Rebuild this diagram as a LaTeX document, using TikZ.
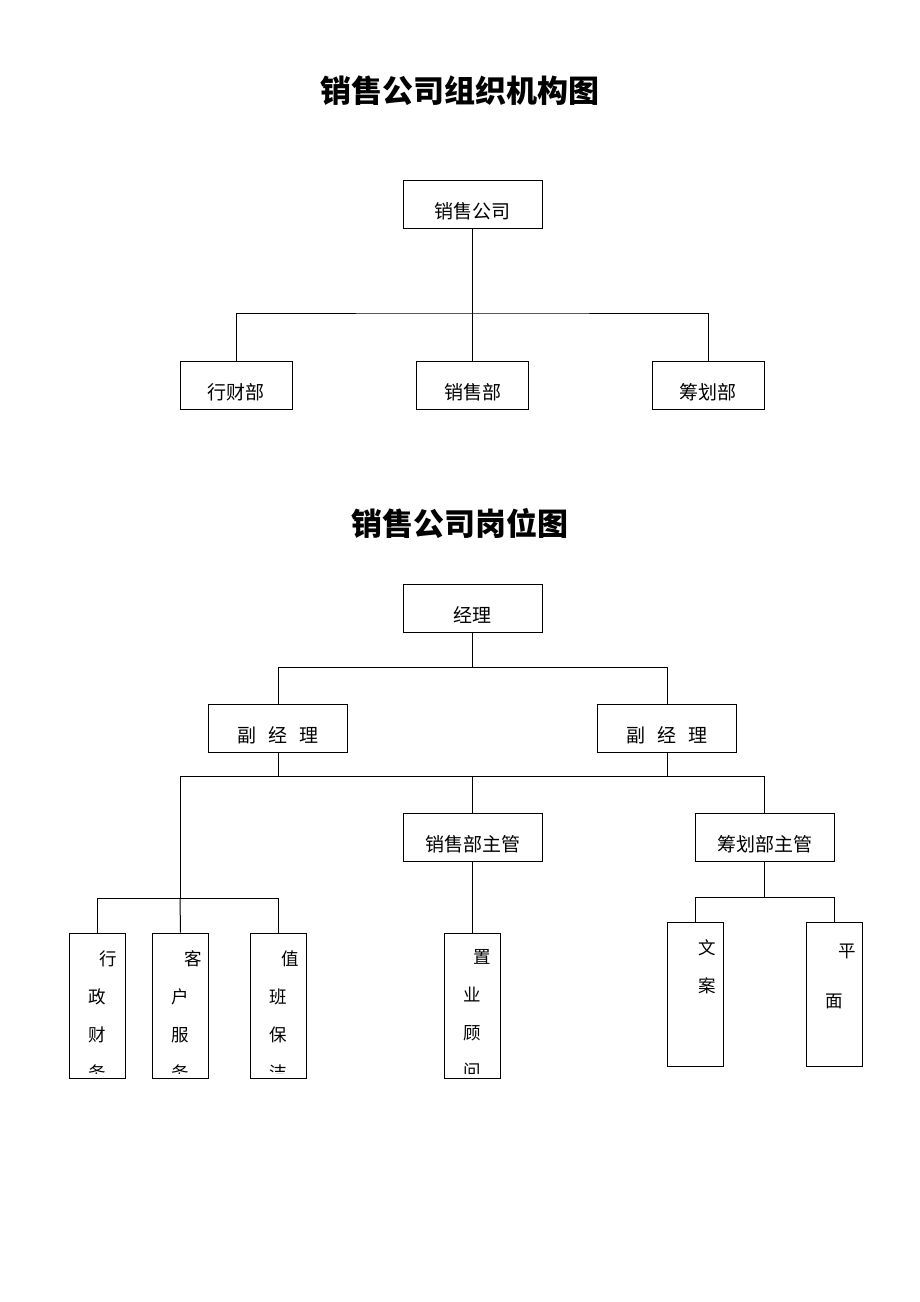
\documentclass[tikz,border=0pt]{standalone}
\usepackage{fontspec}
\setmainfont{Noto Sans CJK SC}
\tikzset{
  box/.style={draw, line width=1pt, inner sep=0pt, minimum width=139pt,
    minimum height=48pt, text height=38pt, text depth=10pt,
    font=\fontsize{19}{19}\selectfont},
  tallbox/.style={draw, line width=1pt, inner sep=0pt, minimum width=56pt,
    minimum height=145pt},
  coltext/.style={inner sep=0pt, align=center, anchor=north,
    font=\fontsize{17.5}{38}\selectfont},
  title/.style={inner sep=0pt, font=\fontsize{31}{31}\selectfont\bfseries},
  conn/.style={line width=1pt}
}
% text inside a tall box, cut off just above its lower edge
\newcommand{\coltext}[4]{%
  \begin{scope}
    \clip ([yshift=5pt]#1.south west) rectangle (#1.north east);
    \node[coltext] (#2) at ([yshift=-#3pt]#1.north) {#4};
  \end{scope}}

\begin{document}
\begin{tikzpicture}[x=1pt, y=-1pt]
\useasboundingbox (0,0) rectangle (920,1302);

% organisation chart
\node[title] (t1) at (460,91) {销售公司组织机构图};
\node[box] (corp) at (472.5,204) {销售公司};
\node[box, minimum width=112pt] (xc) at (236,385) {行财部};
\node[box, minimum width=112pt] (xs) at (472.5,385) {销售部};
\node[box, minimum width=112pt] (ch) at (708,385) {筹划部};
\coordinate (j1) at (472.5,313);
\draw[conn] (corp.south) -- (j1) -- (xs.north);
\draw[conn] (xc.north) |- (j1) -| (ch.north);

% posts chart
\node[title] (t2) at (460,523) {销售公司岗位图};
\node[box] (jl) at (472.5,608) {经理};
\node[box] (fl) at (278,728.5) {副\hspace{12pt}经\hspace{12pt}理};
\node[box] (fr) at (667,728.5) {副\hspace{12pt}经\hspace{12pt}理};
\coordinate (j2) at (472.5,667);
\draw[conn] (jl.south) -- (j2);
\draw[conn] (fl.north) |- (j2) -| (fr.north);

\node[box] (xg) at (472.5,837) {销售部主管};
\node[box] (cg) at (764.5,837) {筹划部主管};
\coordinate (j3) at (180,776);
\coordinate (j4) at (180,898);
\draw[conn] (fl.south) -- (fl.south |- j3);
\draw[conn] (fr.south) -- (fr.south |- j3);
\draw[conn] (j4) -- (j3) -| (cg.north);
\draw[conn] (xg.north) -- (xg.north |- j3);

\node[tallbox] (xz) at (97,1005.5) {};
\node[tallbox] (kf) at (180.5,1005.5) {};
\node[tallbox] (zb) at (278,1005.5) {};
\node[tallbox] (zy) at (472.5,1005.5) {};
\draw[conn] (xz.north) |- (j4) -| (zb.north);
\draw[conn] (j4) -- (kf.north);
\draw[conn] (xg.south) -- (zy.north);

\node[tallbox, minimum height=144pt] (wa) at (695,994) {};
\node[tallbox, minimum height=144pt] (pm) at (834.5,994) {};
\coordinate (j5) at (764.5,897);
\draw[conn] (cg.south) -- (j5);
\draw[conn] (wa.north) |- (j5) -| (pm.north);

\coltext{xz}{xzt}{18}{\hspace*{22pt}行\\政\\财\\务}
\coltext{kf}{kft}{18}{\hspace*{26pt}客\\户\\服\\务}
\coltext{zb}{zbt}{18}{\hspace*{24pt}值\\班\\保\\洁}
\coltext{zy}{zyt}{17}{\hspace*{20pt}置\\业\\顾\\问}
\coltext{wa}{wat}{18}{\hspace*{24pt}文\\\hspace*{24pt}案}
\coltext{pm}{pmt}{22}{\hspace*{25pt}平\\[12pt]面}
\end{tikzpicture}
\end{document}
